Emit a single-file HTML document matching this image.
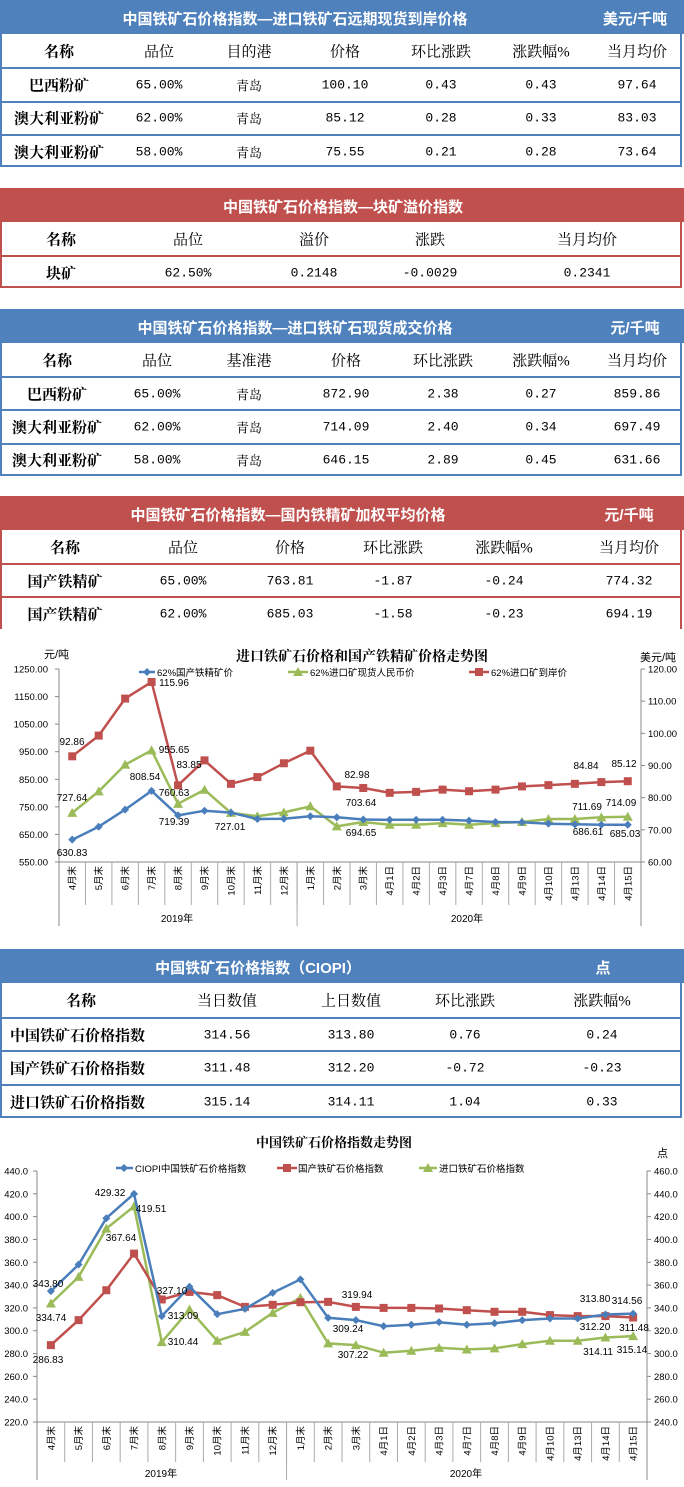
<!DOCTYPE html>
<html><head><meta charset="utf-8"><style>
body{margin:0;width:684px;height:1487px;background:#fff;position:relative;overflow:hidden;font-family:"Liberation Serif","Noto Serif CJK SC",serif;}
.hd{position:absolute;left:0;width:684px;height:34px;color:#fff;font-weight:bold;font-size:15px;font-family:"Liberation Sans","Noto Sans CJK SC",sans-serif;}
.hd span{position:absolute;top:8px;white-space:nowrap;transform:translateX(-50%);}
.tb{position:absolute;left:0;width:682px;box-sizing:border-box;}
.row{position:absolute;left:0;width:100%;box-sizing:border-box;}
.c{position:absolute;top:50%;transform:translate(-50%,-50%);white-space:nowrap;font-size:15px;}
.n{font-family:"Liberation Mono","Noto Serif CJK SC",monospace;font-size:13px;}
.b{font-weight:bold;}
svg{position:absolute;left:0;top:0;}
</style></head><body>
<div id="root"></div>
<svg id="sv" width="684" height="1487" xmlns="http://www.w3.org/2000/svg" font-family="Liberation Sans, Noto Sans CJK SC, sans-serif"></svg>
<script>
var root=document.getElementById('root');
function table(top,color,title,tx,unit,ux,cols,rows,rh,leftNames,noBottom){
  var h='<div class="hd" style="top:'+top+'px;background:'+color+'"><span style="left:'+tx+'px">'+title+'</span>'+(unit?'<span style="left:'+ux+'px">'+unit+'</span>':'')+'</div>';
  var t=top+34;
  h+='<div class="tb" style="top:'+t+'px;height:'+(rows.length*rh)+'px;border-left:2px solid '+color+';border-right:2px solid '+color+';'+(noBottom?'':'border-bottom:2px solid '+color)+'">';
  rows.forEach(function(r,ri){
    h+='<div class="row" style="top:'+(ri*rh)+'px;height:'+rh+'px;'+(ri>0?'border-top:2px solid '+color:'')+'">';
    r.forEach(function(v,ci){
      var cls='c';
      if(ci==0) cls+=' b';
      else if(ri>0) cls+=' n';
      var st='left:'+cols[ci]+'px';
      if(ci==0&&leftNames&&ri>0) st='left:8px;transform:translate(0,-50%)';
      h+='<div class="'+cls+'" style="'+st+'">'+v+'</div>';
    });
    h+='</div>';
  });
  h+='</div>';
  root.innerHTML+=h;
}
var B='#4f81bd',R='#c0504d';
table(0,B,'中国铁矿石价格指数—进口铁矿石远期现货到岸价格',295,'美元/千吨',635,[57,157,247,343,439,539,635],
[['名称','品位','目的港','价格','环比涨跌','涨跌幅%','当月均价'],
['巴西粉矿','65.00%','青岛','100.10','0.43','0.43','97.64'],
['澳大利亚粉矿','62.00%','青岛','85.12','0.28','0.33','83.03'],
['澳大利亚粉矿','58.00%','青岛','75.55','0.21','0.28','73.64']],33.3);
table(188,R,'中国铁矿石价格指数—块矿溢价指数',343,'',0,[59,186,312,428,585],
[['名称','品位','溢价','涨跌','当月均价'],['块矿','62.50%','0.2148','-0.0029','0.2341']],33);
table(309,B,'中国铁矿石价格指数—进口铁矿石现货成交价格',295,'元/千吨',635,[55,155,247,344,441,539,635],
[['名称','品位','基准港','价格','环比涨跌','涨跌幅%','当月均价'],
['巴西粉矿','65.00%','青岛','872.90','2.38','0.27','859.86'],
['澳大利亚粉矿','62.00%','青岛','714.09','2.40','0.34','697.49'],
['澳大利亚粉矿','58.00%','青岛','646.15','2.89','0.45','631.66']],33.2);
table(496,R,'中国铁矿石价格指数—国内铁精矿加权平均价格',288,'元/千吨',629,[63,181,288,391,502,627],
[['名称','品位','价格','环比涨跌','涨跌幅%','当月均价'],
['国产铁精矿','65.00%','763.81','-1.87','-0.24','774.32'],
['国产铁精矿','62.00%','685.03','-1.58','-0.23','694.19']],33,false,true);
table(949,B,'中国铁矿石价格指数（CIOPI）',258,'点',603,[79,225,349,463,600],
[['名称','当日数值','上日数值','环比涨跌','涨跌幅%'],
['中国铁矿石价格指数','314.56','313.80','0.76','0.24'],
['国产铁矿石价格指数','311.48','312.20','-0.72','-0.23'],
['进口铁矿石价格指数','315.14','314.11','1.04','0.33']],33.7,true);

var s='';
var cats=['4月末','5月末','6月末','7月末','8月末','9月末','10月末','11月末','12月末','1月末','2月末','3月末','4月1日','4月2日','4月3日','4月7日','4月8日','4月9日','4月10日','4月13日','4月14日','4月15日'];
function T(x,y,t,o){o=o||{};return '<text x="'+x+'" y="'+y+'" font-size="'+(o.fs||10)+'" fill="'+(o.fill||'#000')+'"'+(o.a?' text-anchor="'+o.a+'"':'')+(o.w?' font-weight="bold"':'')+(o.ff?' font-family="'+o.ff+'"':'')+(o.tr?' transform="'+o.tr+'"':'')+'>'+t+'</text>';}
function marker(type,x,y,c){
  if(type=='d')return '<polygon points="'+x+','+(y-4)+' '+(x+4)+','+y+' '+x+','+(y+4)+' '+(x-4)+','+y+'" fill="'+c+'"/>';
  if(type=='s')return '<rect x="'+(x-4)+'" y="'+(y-4)+'" width="8" height="8" fill="'+c+'"/>';
  return '<polygon points="'+x+','+(y-5)+' '+(x+5)+','+(y+4)+' '+(x-5)+','+(y+4)+'" fill="'+c+'"/>';
}
function series(xs,ys,type,c){
  var p=xs.map(function(x,i){return x.toFixed(1)+','+ys[i].toFixed(1)}).join(' ');
  var out='<polyline points="'+p+'" fill="none" stroke="'+c+'" stroke-width="2.5"/>';
  xs.forEach(function(x,i){out+=marker(type,x,ys[i],c)});
  return out;
}
var BL='#4a7ebb',RD='#c0504d',GR='#9bbb59';
function chart(o){
  var L=o.L,Rt=o.R,top=o.top,bot=o.bot,n=22,w=(Rt-L)/n;
  var out='<line x1="'+L+'" y1="'+top+'" x2="'+L+'" y2="'+o.yb+'" stroke="#888"/>';
  out+='<line x1="'+Rt+'" y1="'+top+'" x2="'+Rt+'" y2="'+o.yb+'" stroke="#888"/>';
  out+='<line x1="'+L+'" y1="'+bot+'" x2="'+Rt+'" y2="'+bot+'" stroke="#888"/>';
  for(var i=0;i<=o.nt;i++){
    var y=top+(bot-top)*i/o.nt;
    out+='<line x1="'+(L-4)+'" y1="'+y+'" x2="'+L+'" y2="'+y+'" stroke="#888"/>';
    out+=T(o.lx,y+3.5,(o.lmax-o.lstep*i).toFixed(o.dec),{a:'end',fs:9.5});
  }
  for(var i=0;i<=o.rn;i++){
    var y=top+(bot-top)*i/o.rn;
    out+='<line x1="'+Rt+'" y1="'+y+'" x2="'+(Rt+4)+'" y2="'+y+'" stroke="#888"/>';
    out+=T(Rt+7,y+3.5,(o.rmax-o.rstep*i).toFixed(o.dec),{fs:9.5});
  }
  for(var i=0;i<n;i++){
    var x=L+w*(i+0.5);
    if(i>0)out+='<line x1="'+(L+w*i)+'" y1="'+bot+'" x2="'+(L+w*i)+'" y2="'+o.ys+'" stroke="#aaa"/>';
    out+=T(x+3.5,bot+4,cats[i],{a:'end',fs:9.5,tr:'rotate(-90 '+(x+3.5)+' '+(bot+4)+')'});
  }
  out+='<line x1="'+(L+w*9)+'" y1="'+bot+'" x2="'+(L+w*9)+'" y2="'+o.yb+'" stroke="#aaa"/>';
  out+=T(o.y1x,o.yy,'2019年',{a:'middle',fs:10})+T(o.y2x,o.yy,'2020年',{a:'middle',fs:10});
  var xs=[];for(var i=0;i<n;i++)xs.push(L+w*(i+0.5));
  return {svg:out,xs:xs};
}
// chart 1
var c1=chart({L:59,R:641,top:669,bot:862,nt:7,rn:6,lmax:1250,lstep:100,rmax:120,rstep:10,dec:2,lx:48,ys:905,yb:926,y1x:177,y2x:467,yy:922});
s+=c1.svg;
s+=T(362,661,'进口铁矿石价格和国产铁精矿价格走势图',{a:'middle',fs:14,w:1,ff:'Liberation Serif, Noto Serif CJK SC, serif'});
s+=T(44,658,'元/吨',{fs:11})+T(640,661,'美元/吨',{fs:11});
function yL1(v){return 669+(1250-v)*0.2757}
function yR1(v){return 669+(120-v)*193/60}
var blue1=[631,678,740,808,719,736,729,706,707,716,712,704,703,703,703,700,695,694,689,686.6,685,685];
var green1=[728,806,903,955,761,812,728,716,730,752,679,695,685,685,691,685,691,695,706,706,712,714];
var red1=[92.86,99.3,110.8,115.96,83.85,91.6,84.3,86.4,90.7,94.6,83.5,83.0,81.5,81.8,82.5,82,82.5,83.5,83.9,84.3,84.84,85.12];
s+=series(c1.xs,green1.map(yL1),'t',GR)+series(c1.xs,blue1.map(yL1),'d',BL)+series(c1.xs,red1.map(yR1),'s',RD);
s+='<line x1="139" y1="672" x2="155" y2="672" stroke="'+BL+'" stroke-width="2.5"/>'+marker('d',147,672,BL)+T(157,676,'62%国产铁精矿价',{fs:9.5});
s+='<line x1="288" y1="672" x2="308" y2="672" stroke="'+GR+'" stroke-width="2.5"/>'+marker('t',298,672,GR)+T(310,676,'62%进口矿现货人民币价',{fs:9.5});
s+='<line x1="469" y1="672" x2="489" y2="672" stroke="'+RD+'" stroke-width="2.5"/>'+marker('s',479,672,RD)+T(491,676,'62%进口矿到岸价',{fs:9.5});
[['92.86',72,745],['115.96',174,686],['955.65',174,753],['83.85',189,768],['808.54',145,780],['760.63',174,796],['727.64',72,801],['719.39',174,825],['727.01',230,830],['630.83',72,856],['82.98',357,778],['703.64',361,806],['694.65',361,836],['84.84',586,769],['85.12',624,767],['711.69',587,810],['714.09',621,806],['686.61',588,835],['685.03',625,837]].forEach(function(l){s+=T(l[1],l[2],l[0],{a:'middle',fs:10})});
// chart 2
var c2=chart({L:37,R:647,top:1171,bot:1422,nt:11,rn:11,lmax:440,lstep:20,rmax:460,rstep:20,dec:1,lx:28,ys:1462,yb:1480,y1x:161,y2x:466,yy:1477});
s+=c2.svg;
s+=T(334,1147,'中国铁矿石价格指数走势图',{a:'middle',fs:13,w:1,ff:'Liberation Serif, Noto Serif CJK SC, serif'});
s+=T(657,1157,'点',{fs:11});
function y2(v){return 1171+(440-v)*251/220}
var blue2=[334.7,358,398.6,420,312.8,338.5,314.5,319.2,333.2,345,311.3,309.3,304,305.2,307.5,305.2,306.6,309.3,310.7,310.7,314.2,315];
var red2=[287.4,309.3,335.5,367.6,327.4,334,331.2,320.9,322.7,325,325.3,320.9,320,320,319.5,318,316.6,316.6,313.7,312.8,312.8,311.6];
var green2=[323.9,347.2,389.5,409,290,318.6,291.2,299,315.7,328.8,288.9,287.4,280.7,282.5,285,283.6,284.5,288.3,291.2,291.2,294.1,295.3];
s+=series(c2.xs,green2.map(y2),'t',GR)+series(c2.xs,red2.map(y2),'s',RD)+series(c2.xs,blue2.map(y2),'d',BL);
s+='<line x1="116" y1="1168" x2="133" y2="1168" stroke="'+BL+'" stroke-width="2.5"/>'+marker('d',124,1168,BL)+T(135,1172,'CIOPI中国铁矿石价格指数',{fs:9.5});
s+='<line x1="277" y1="1168" x2="297" y2="1168" stroke="'+RD+'" stroke-width="2.5"/>'+marker('s',287,1168,RD)+T(298,1172,'国产铁矿石价格指数',{fs:9.5});
s+='<line x1="419" y1="1168" x2="437" y2="1168" stroke="'+GR+'" stroke-width="2.5"/>'+marker('t',428,1168,GR)+T(439,1172,'进口铁矿石价格指数',{fs:9.5});
[['343.80',48,1287],['334.74',51,1321],['286.83',48,1363],['429.32',110,1196],['419.51',151,1212],['367.64',121,1241],['327.10',172,1294],['313.09',183,1319],['310.44',183,1345],['319.94',357,1298],['309.24',348,1332],['307.22',353,1358],['313.80',595,1302],['314.56',627,1304],['312.20',595,1330],['311.48',634,1331],['314.11',598,1355],['315.14',632,1353]].forEach(function(l){s+=T(l[1],l[2],l[0],{a:'middle',fs:10})});
document.getElementById('sv').innerHTML=s;
</script>
</body></html>
